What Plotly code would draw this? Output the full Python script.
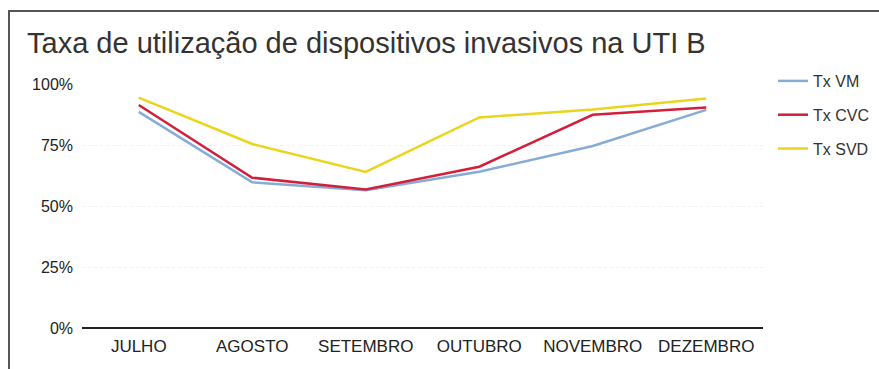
import plotly.graph_objects as go

months = ["JULHO", "AGOSTO", "SETEMBRO", "OUTUBRO", "NOVEMBRO", "DEZEMBRO"]
tx_vm = [88.6, 59.7, 56.5, 64.0, 74.6, 89.4]
tx_cvc = [91.4, 61.6, 56.8, 66.1, 87.4, 90.4]
tx_svd = [94.4, 75.4, 64.0, 86.3, 89.6, 94.1]
y_ticks = [0, 25, 50, 75, 100]
y_labels = ["0%", "25%", "50%", "75%", "100%"]

series = [
    ("Tx VM", tx_vm, "#86acd6"),
    ("Tx CVC", tx_cvc, "#d21f3c"),
    ("Tx SVD", tx_svd, "#ead51e"),
]

fig = go.Figure()
for name, vals, color in series:
    fig.add_trace(go.Scatter(
        x=months, y=vals, name=name, mode="lines",
        line=dict(color=color, width=2.5),
        legendgroup=name,
    ))

L, R, T, B = 82, 116, 84, 41
W, H = 879, 369
pw, ph = W - L - R, H - T - B

def px_to_paper_x(px):
    return (px - L) / pw

def px_to_paper_y(py):
    return (H - B - py) / ph

fig.update_layout(
    width=W, height=H,
    margin=dict(l=L, r=R, t=T, b=B, autoexpand=False),
    paper_bgcolor="white", plot_bgcolor="white",
    font=dict(family="Liberation Sans, Arial, sans-serif", color="#333333", size=15),
    title=dict(
        text="Taxa de utilização de dispositivos invasivos na UTI B",
        x=27 / W, xref="container", xanchor="left",
        y=1 - 43 / H, yref="container", yanchor="middle",
        font=dict(size=29, color="#333333"),
    ),
    showlegend=True,
    legend=dict(
        x=px_to_paper_x(773), y=px_to_paper_y(64), xanchor="left", yanchor="top",
        font=dict(size=16, color="#333333"),
        tracegroupgap=10, itemwidth=30, bgcolor="rgba(0,0,0,0)",
    ),
    xaxis=dict(
        type="category", range=[-0.5, 5.5],
        showgrid=False, showline=False, zeroline=False,
        ticks="", ticklabelstandoff=6,
        tickfont=dict(size=17, color="#222222"),
    ),
    yaxis=dict(
        range=[0, 100], tickvals=y_ticks, ticktext=y_labels,
        showgrid=True, gridcolor="#f1f1f1", griddash="dot", gridwidth=1,
        zeroline=True, zerolinecolor="#222222", zerolinewidth=2,
        showline=False, ticks="", ticklabelstandoff=8,
        tickfont=dict(size=16, color="#222222"),
    ),
    shapes=[
        dict(type="rect", xref="paper", yref="paper",
             x0=px_to_paper_x(9), x1=px_to_paper_x(900),
             y0=px_to_paper_y(400), y1=px_to_paper_y(11),
             line=dict(color="#555555", width=2), fillcolor="rgba(0,0,0,0)", layer="below"),
    ],
)

fig.write_html("out.html")
